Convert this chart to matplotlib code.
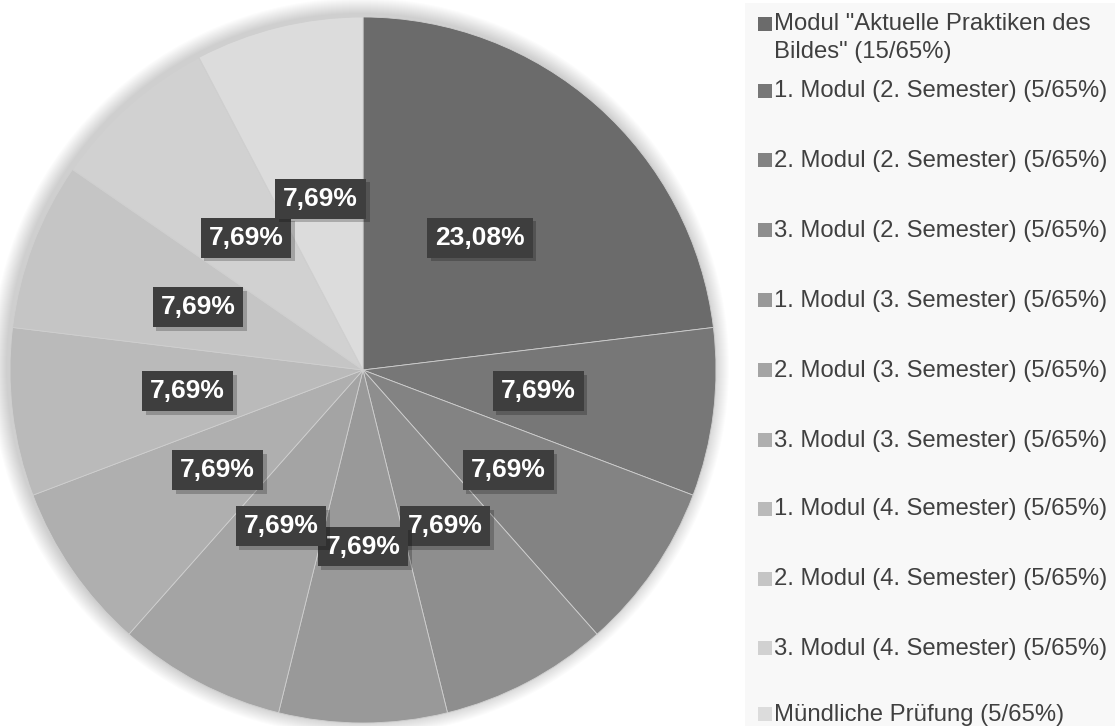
import matplotlib
matplotlib.use("Agg")
import matplotlib.pyplot as plt
import matplotlib.patheffects as pe
from matplotlib.patches import Rectangle, Circle
import math

plt.rcParams['font.family'] = ['Liberation Sans', 'DejaVu Sans']
plt.rcParams['hatch.color'] = '#5a5a5a'
plt.rcParams['hatch.linewidth'] = 2.0

labels = [
    'Modul "Aktuelle Praktiken des\nBildes" (15/65%)',
    '1. Modul (2. Semester) (5/65%)',
    '2. Modul (2. Semester) (5/65%)',
    '3. Modul (2. Semester) (5/65%)',
    '1. Modul (3. Semester) (5/65%)',
    '2. Modul (3. Semester) (5/65%)',
    '3. Modul (3. Semester) (5/65%)',
    '1. Modul (4. Semester) (5/65%)',
    '2. Modul (4. Semester) (5/65%)',
    '3. Modul (4. Semester) (5/65%)',
    'Mündliche Prüfung (5/65%)',
]
values = [15, 5, 5, 5, 5, 5, 5, 5, 5, 5, 5]
colors = ['#6b6b6b', '#777777', '#838383', '#8e8e8e', '#999999', '#a4a4a4',
          '#afafaf', '#bababa', '#c5c5c5', '#d1d1d1', '#dcdcdc']

W, H = 1115, 726
fig = plt.figure(figsize=(W / 100, H / 100), dpi=100)
ax = fig.add_axes([0, 0, 1, 1])

cx, cy, R = 363, H - 370, 353

# soft shadow
for i in range(16):
    ax.add_patch(Circle((cx - 3, cy + 3), R + 16 - i, color='black',
                        alpha=0.011, lw=0, zorder=0))

wedges, texts = ax.pie(values, colors=colors, startangle=90, counterclock=False,
                       center=(cx, cy), radius=R, frame=True,
                       wedgeprops=dict(edgecolor='#cfcfcf', linewidth=0.6))
ax.set_xlim(0, W)
ax.set_ylim(0, H)
ax.set_aspect('equal')
ax.axis('off')

total = sum(values)
start = 90.0
for v in values:
    pct = v / total * 100
    ang = start - v / total * 360 / 2
    start -= v / total * 360
    lx = cx + 0.5 * R * math.cos(math.radians(ang))
    ly = cy + 0.5 * R * math.sin(math.radians(ang))
    s = f'{pct:.2f}%'.replace('.', ',')
    t = ax.text(lx, ly, s, ha='center', va='center', fontsize=19, fontweight='bold',
                color='white', zorder=6,
                bbox=dict(boxstyle='square,pad=0.3', facecolor='#3e3e3e', edgecolor='none', hatch='.'))
    t.get_bbox_patch().set_path_effects([
        pe.SimplePatchShadow(offset=(2.5, -2.5), shadow_rgbFace='black', alpha=0.22),
        pe.Normal()])

# legend panel
ax.add_patch(Rectangle((745, 0), W - 745, H - 3, facecolor='#f8f8f8', edgecolor='none', zorder=1))
ys = [24, 91, 160, 230, 300, 370, 440, 509, 579, 648, 714]
for lab, col, y in zip(labels, colors, ys):
    yy = H - y
    ax.add_patch(Rectangle((758, yy - 7), 14, 14, facecolor=col, edgecolor='none', zorder=2))
    ax.text(774, yy + 10.5, lab, ha='left', va='top', fontsize=17.2, color='#404040',
            zorder=3, linespacing=1.3)

fig.savefig('out.png', dpi=100)
